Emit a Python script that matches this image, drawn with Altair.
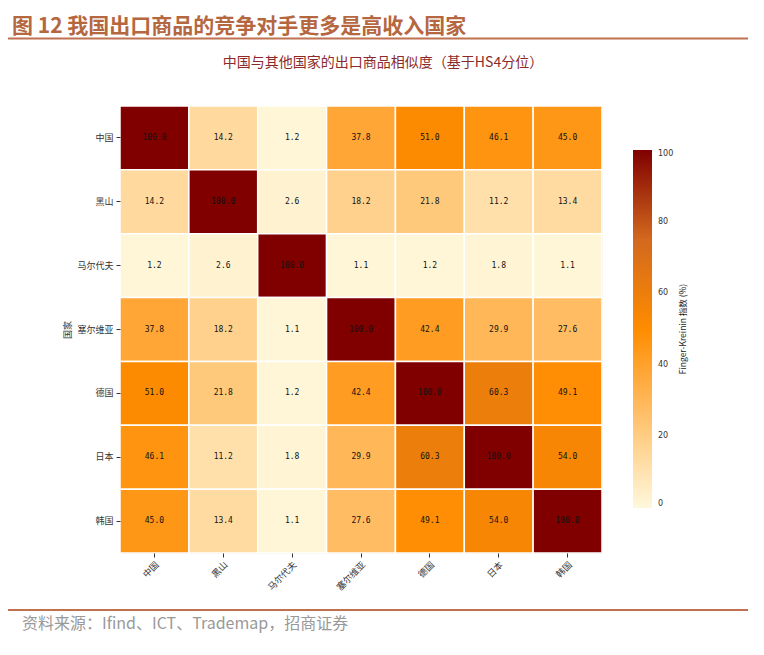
"""Export similarity heatmap (Finger-Kreinin index) rebuilt with Altair."""

import altair as alt
import pandas as pd

countries = ["中国", "黑山", "马尔代夫", "塞尔维亚", "德国", "日本", "韩国"]

china = [100.0, 14.2, 1.2, 37.8, 51.0, 46.1, 45.0]
montenegro = [14.2, 100.0, 2.6, 18.2, 21.8, 11.2, 13.4]
maldives = [1.2, 2.6, 100.0, 1.1, 1.2, 1.8, 1.1]
serbia = [37.8, 18.2, 1.1, 100.0, 42.4, 29.9, 27.6]
germany = [51.0, 21.8, 1.2, 42.4, 100.0, 60.3, 49.1]
japan = [46.1, 11.2, 1.8, 29.9, 60.3, 100.0, 54.0]
korea = [45.0, 13.4, 1.1, 27.6, 49.1, 54.0, 100.0]

legend_ticks = [0, 20, 40, 60, 80, 100]

rows = [china, montenegro, maldives, serbia, germany, japan, korea]
records = []
for row_name, values in zip(countries, rows):
    for col_name, v in zip(countries, values):
        records.append({"row": row_name, "col": col_name, "value": v})
frame = pd.DataFrame(records)

CJK = "Noto Sans CJK SC"
LINE = "#c0714f"
W, H = 482, 447

base = alt.Chart(frame).encode(
    x=alt.X(
        "col:N",
        sort=countries,
        title=None,
        axis=alt.Axis(
            labelAngle=-45,
            labelFont=CJK,
            labelFontSize=9,
            labelColor="#333333",
            tickColor="#333333",
            tickSize=4,
            labelPadding=3,
            domain=False,
        ),
    ),
    y=alt.Y(
        "row:N",
        sort=countries,
        title="国家",
        axis=alt.Axis(
            labelFont=CJK,
            labelFontSize=9,
            labelColor="#333333",
            tickColor="#333333",
            tickSize=4,
            labelPadding=3,
            domain=False,
            titleFont=CJK,
            titleFontSize=9,
            titleFontWeight="normal",
            titleColor="#333333",
            titlePadding=4,
        ),
    ),
)

cells = base.mark_rect(stroke="white", strokeWidth=1.5).encode(
    color=alt.Color(
        "value:Q",
        scale=alt.Scale(
            domain=[0, 50, 75, 100],
            range=["#FFF8DC", "#FF8C00", "#D2691E", "#800000"],
            interpolate="rgb",
        ),
        legend=alt.Legend(
            orient="none",
            legendX=513,
            legendY=44,
            direction="vertical",
            gradientLength=358,
            gradientThickness=19,
            gradientStrokeWidth=0,
            values=legend_ticks,
            labelFont="DejaVu Sans",
            labelFontSize=8,
            labelColor="#333333",
            labelOffset=6,
            title=None,
        ),
    ),
    tooltip=["row:N", "col:N", alt.Tooltip("value:Q", format=".1f")],
)

labels = base.mark_text(font="DejaVu Sans Mono", fontSize=8, color="#111111").encode(
    text=alt.Text("value:Q", format=".1f")
)

# decorations: header, subtitle, rules, footer, colorbar caption
stub = alt.Chart(pd.DataFrame({"k": [0]}))

header = stub.mark_text(
    align="left", baseline="middle", font=CJK, fontSize=21, fontWeight="bold", color="#b5673f"
).encode(x=alt.value(-108), y=alt.value(-79), text=alt.value("图 12 我国出口商品的竞争对手更多是高收入国家"))

top_rule = stub.mark_rule(color=LINE, strokeWidth=2).encode(
    x=alt.value(-112), x2=alt.value(628), y=alt.value(-67.5)
)

subtitle = stub.mark_text(
    align="center", baseline="middle", font=CJK, fontSize=14, color="#8c2a2a"
).encode(x=alt.value(263), y=alt.value(-43), text=alt.value("中国与其他国家的出口商品相似度（基于HS4分位）"))

bottom_rule = stub.mark_rule(color=LINE, strokeWidth=2).encode(
    x=alt.value(-112), x2=alt.value(628), y=alt.value(504)
)

footer = stub.mark_text(
    align="left", baseline="middle", font=CJK, fontSize=16, color="#999999"
).encode(x=alt.value(-98), y=alt.value(518), text=alt.value("资料来源：Ifind、ICT、Trademap，招商证券"))

bar_caption = stub.mark_text(
    align="center", baseline="middle", font=CJK, fontSize=8.5, color="#222222", angle=270
).encode(x=alt.value(563), y=alt.value(223), text=alt.value("Finger-Kreinin 指数 (%)"))

chart = (
    alt.layer(cells, labels, header, top_rule, subtitle, bottom_rule, footer, bar_caption)
    .properties(
        width=W,
        height=H,
        autosize=alt.AutoSizeParams(type="none"),
        padding={"left": 112, "top": 98, "right": 154, "bottom": 88},
    )
    .configure_view(stroke=None)
    .configure(background="white")
)

chart.save("out.html", embed_options={"renderer": "svg", "actions": False})
